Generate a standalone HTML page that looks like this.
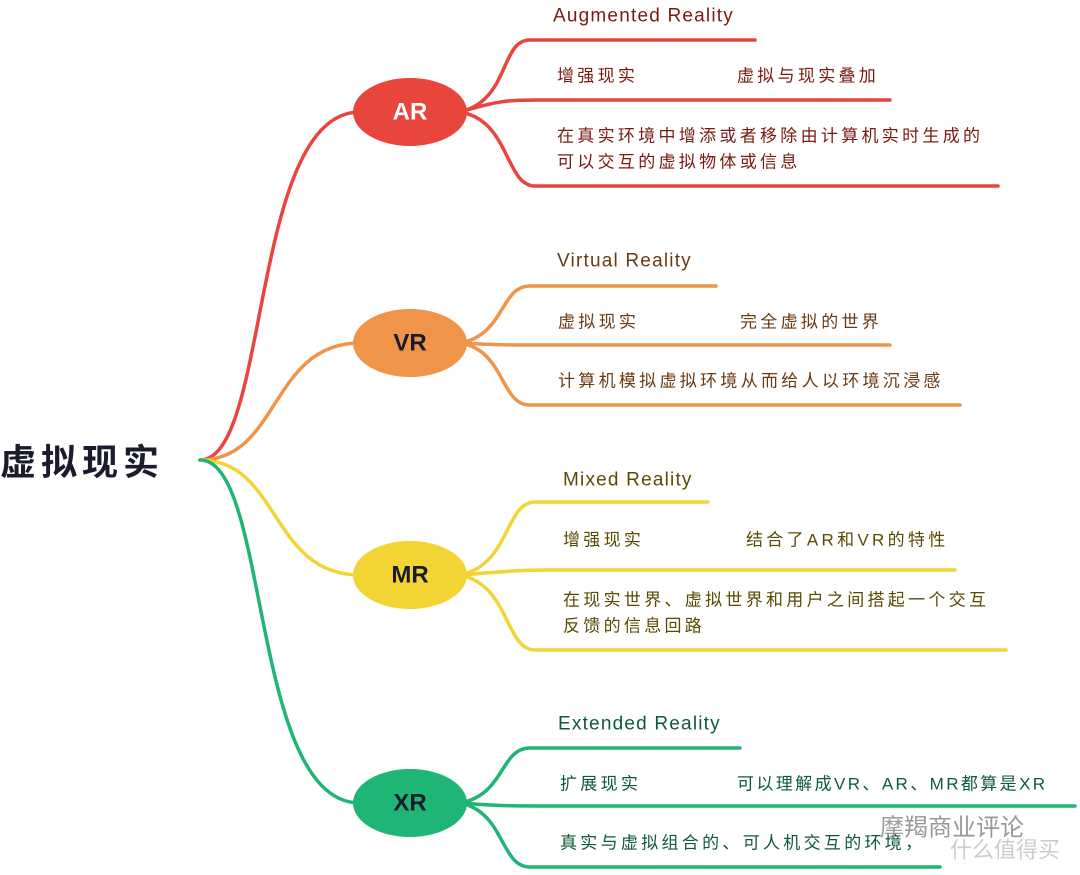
<!DOCTYPE html>
<html><head><meta charset="utf-8"><style>
html,body{margin:0;padding:0;background:#fff;width:1080px;height:875px;overflow:hidden}
text{font-family:"Liberation Sans","Noto Sans CJK SC",sans-serif}
</style></head><body>
<svg width="1080" height="875" viewBox="0 0 1080 875" xmlns="http://www.w3.org/2000/svg">
<g fill="none" stroke-width="3.5" stroke-linecap="round">
<path d="M200 460 C270 460 250 112 360 112" stroke="#e8453c"/>
<path d="M200 460 C280 460 270 343 360 343" stroke="#f0944a"/>
<path d="M200 460 C280 460 270 575 360 575" stroke="#f2d534"/>
<path d="M200 460 C270 460 250 803 360 803" stroke="#1fb574"/>
<g stroke="#e8453c">
<path d="M460 112 C510 100 500 40 530 40 L755 40"/>
<path d="M460 112 C500 100 510 100 540 100 L890 100"/>
<path d="M460 112 C510 120 505 186 535 186 L998 186"/>
</g>
<g stroke="#f0944a">
<path d="M460 343 C505 335 500 286 530 286 L716 286"/>
<path d="M460 343 C495 345 510 345 540 345 L890 345"/>
<path d="M460 343 C505 350 500 405 530 405 L960 405"/>
</g>
<g stroke="#f2d534">
<path d="M460 575 C510 565 505 502 535 502 L708 502"/>
<path d="M460 575 C500 572 515 570 545 570 L955 570"/>
<path d="M460 575 C510 585 505 650 535 650 L1006 650"/>
</g>
<g stroke="#1fb574">
<path d="M460 803 C505 795 500 748 530 748 L740 748"/>
<path d="M460 803 C500 806 515 806 545 806 L1075 806"/>
<path d="M460 803 C505 812 500 867 530 867 L940 867"/>
</g>
</g>
<ellipse cx="410" cy="112" rx="57" ry="34" fill="#e8453c"/>
<ellipse cx="410" cy="343" rx="57" ry="34" fill="#f0944a"/>
<ellipse cx="410" cy="575" rx="57" ry="34" fill="#f2d534"/>
<ellipse cx="410" cy="803" rx="57" ry="34" fill="#1fb574"/>
<g font-size="24" font-weight="bold" text-anchor="middle" dominant-baseline="central">
<text x="410" y="112" fill="#fff">AR</text>
<text x="410" y="343" fill="#1b1b2e">VR</text>
<text x="410" y="575" fill="#1b1b2e">MR</text>
<text x="410" y="803" fill="#1b1b2e">XR</text>
</g>
<text x="0" y="462" font-size="36" font-weight="bold" fill="#1b1b2e" letter-spacing="5" dominant-baseline="central">虚拟现实</text>
<g font-size="17" letter-spacing="3.3" dominant-baseline="central">
<g fill="#7a1a10">
<text x="553" y="16" font-size="19" letter-spacing="1.2">Augmented Reality</text>
<text x="557" y="76">增强现实</text><text x="737" y="76">虚拟与现实叠加</text>
<text x="557" y="136">在真实环境中增添或者移除由计算机实时生成的</text>
<text x="557" y="162">可以交互的虚拟物体或信息</text>
</g>
<g fill="#6b3a10">
<text x="557" y="261" font-size="19" letter-spacing="1.2">Virtual Reality</text>
<text x="558" y="322">虚拟现实</text><text x="740" y="322">完全虚拟的世界</text>
<text x="558" y="381">计算机模拟虚拟环境从而给人以环境沉浸感</text>
</g>
<g fill="#5a4a00">
<text x="563" y="480" font-size="19" letter-spacing="1.2">Mixed Reality</text>
<text x="563" y="540">增强现实</text><text x="746" y="540">结合了AR和VR的特性</text>
<text x="563" y="600">在现实世界、虚拟世界和用户之间搭起一个交互</text>
<text x="563" y="626">反馈的信息回路</text>
</g>
<g fill="#0d5a3a">
<text x="558" y="724" font-size="19" letter-spacing="1.2">Extended Reality</text>
<text x="560" y="784">扩展现实</text><text x="737" y="784" letter-spacing="2.4">可以理解成VR、AR、MR都算是XR</text>
<text x="560" y="843">真实与虚拟组合的、可人机交互的环境，</text>
</g>
</g>
<g dominant-baseline="central">
<text x="880" y="828" font-size="24" fill="#999">摩羯商业评论</text>
<text x="950" y="850" font-size="22" fill="#ccc">什么值得买</text>
</g>
</svg>
</body></html>
